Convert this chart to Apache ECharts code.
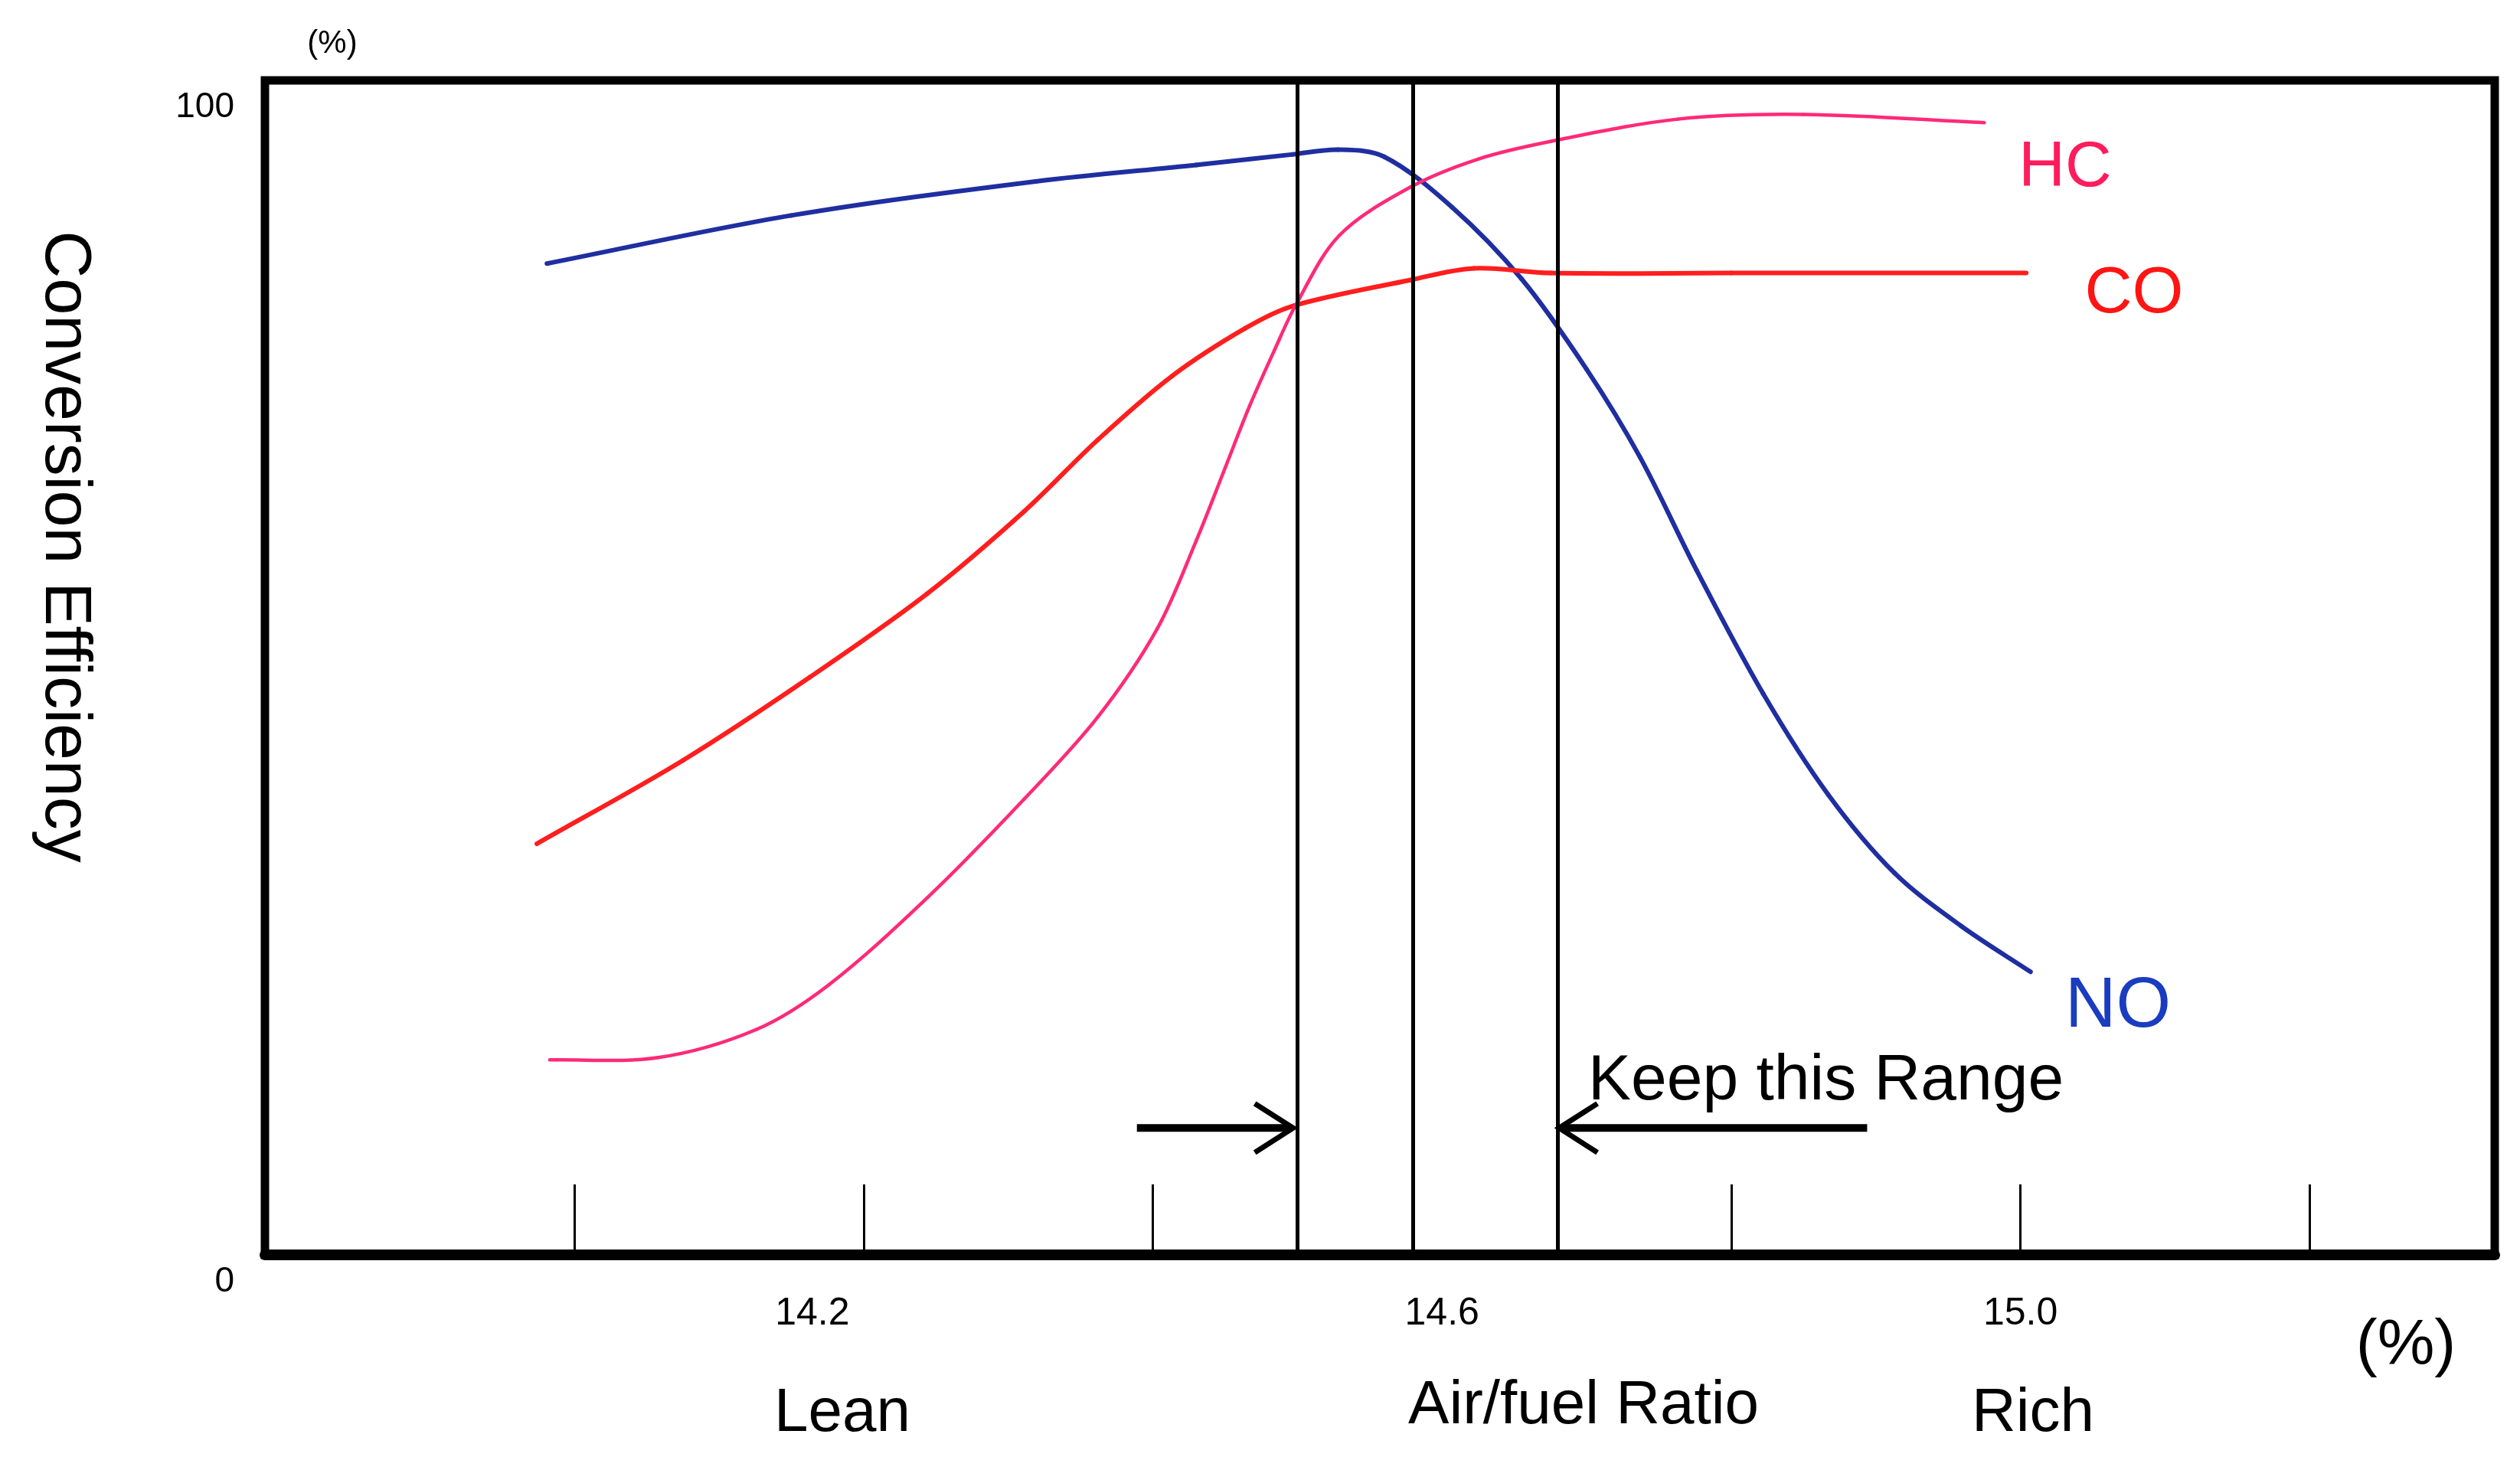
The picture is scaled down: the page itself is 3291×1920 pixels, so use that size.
<!DOCTYPE html>
<html>
<head>
<meta charset="utf-8">
<script src="https://cdn.jsdelivr.net/npm/echarts@6/dist/echarts.min.js"></script>
<style>
html,body{margin:0;padding:0;background:#fff;}
#chart{width:3291px;height:1920px;}
</style>
</head>
<body>
<div id="chart"></div>
<script>
// ---- data ----
const noX = [13.981, 14.150, 14.319, 14.430, 14.497, 14.528, 14.560, 14.607, 14.655, 14.700, 14.737, 14.776, 14.822, 14.867, 14.913, 14.959, 15.007];
const noY = [84.4, 88.5, 91.4, 92.8, 93.7, 94.1, 93.5, 89.2, 83.1, 75.4, 67.9, 58.3, 47.8, 39.2, 32.5, 28.0, 24.1];

const coX = [13.974, 14.075, 14.163, 14.244, 14.311, 14.362, 14.413, 14.464, 14.497, 14.578, 14.622, 14.675, 14.800, 15.004];
const coY = [35.0, 42.1, 49.2, 56.3, 63.3, 69.4, 74.8, 78.9, 80.8, 83.0, 84.0, 83.6, 83.6, 83.6];

const hcX = [13.983, 14.058, 14.126, 14.176, 14.244, 14.311, 14.362, 14.403, 14.430, 14.450, 14.467, 14.484, 14.499, 14.529, 14.578, 14.625, 14.675, 14.763, 14.850, 14.975];
const hcY = [16.6, 16.8, 19.2, 23.0, 30.4, 38.8, 45.8, 53.3, 60.8, 67.0, 72.3, 77.0, 80.9, 86.8, 90.9, 93.3, 94.8, 96.7, 97.1, 96.4];

const rangeLines = [14.497, 14.578, 14.675];
const tickValues = [14.0, 14.2, 14.4, 14.8, 15.0, 15.2];
const tickLabels = [14.2, 14.6, 15.0];
const yTicks = [0, 100];
const arrowFrom = [14.389, 14.894];
const arrowTo = [14.497, 14.681];
const arrowY = 10.8;

const xMin = 13.786, xMax = 15.328;

const FONT = 'Liberation Sans, Arial, sans-serif';
const zip = (xs, ys) => xs.map((x, i) => [x, ys[i]]);

const chart = echarts.init(document.getElementById('chart'));

function txt(text, x, y, size, color, opts) {
  opts = opts || {};
  return {
    type: 'text', x: x, y: y, rotation: opts.rotation || 0,
    style: {
      text: text, fontSize: size, fontFamily: FONT, fill: color,
      align: opts.align || 'center', textAlign: opts.align || 'center',
      verticalAlign: 'middle', textVerticalAlign: 'middle'
    }
  };
}

// smooth curve (chord-length Catmull-Rom) drawn through the axis scales
function curveSeries(name, xs, ys, color, width) {
  const n = xs.length;
  return {
    name: name, type: 'custom', z: 3, data: zip(xs, ys), encode: { x: 0, y: 1 },
    renderItem: function (params, api) {
      const i = params.dataIndex;
      if (i >= n - 1) return { type: 'group', children: [] };
      const P = k => api.coord([xs[k], ys[k]]);
      const dist = (a, b) => Math.hypot(b[0] - a[0], b[1] - a[1]);
      const tan = k => {
        if (k === 0) { const a = P(0), b = P(1), d = dist(a, b); return [(b[0] - a[0]) / d, (b[1] - a[1]) / d]; }
        if (k === n - 1) { const a = P(n - 2), b = P(n - 1), d = dist(a, b); return [(b[0] - a[0]) / d, (b[1] - a[1]) / d]; }
        const a = P(k - 1), p = P(k), b = P(k + 1);
        const s = dist(a, p) + dist(p, b);
        return [(b[0] - a[0]) / s, (b[1] - a[1]) / s];
      };
      const p0 = P(i), p1 = P(i + 1), d = dist(p0, p1) / 3;
      const t0 = tan(i), t1 = tan(i + 1);
      return {
        type: 'bezierCurve',
        shape: {
          x1: p0[0], y1: p0[1], x2: p1[0], y2: p1[1],
          cpx1: p0[0] + t0[0] * d, cpy1: p0[1] + t0[1] * d,
          cpx2: p1[0] - t1[0] * d, cpy2: p1[1] - t1[1] * d
        },
        style: { stroke: color, lineWidth: width, fill: null, lineCap: 'round' }
      };
    }
  };
}

const option = {
  backgroundColor: '#fff',
  animation: false,
  grid: {
    left: 346, right: 33, top: 105, bottom: 281,
    show: true, borderColor: '#000', borderWidth: 11, backgroundColor: 'transparent'
  },
  xAxis: {
    type: 'value', min: xMin, max: xMax,
    axisLine: { show: true, onZero: false, lineStyle: { color: '#000', width: 14 } },
    axisTick: { show: true, inside: true, length: 92, customValues: tickValues, lineStyle: { color: '#000', width: 3 } },
    axisLabel: {
      show: true, customValues: tickLabels, margin: 52,
      fontSize: 50, fontFamily: FONT, color: '#000',
      formatter: function (v) {
        const s = Number(v).toFixed(1);
        return Math.abs(v - 14.2) < 1e-6 ? '{l|' + s + '}' : s;
      },
      rich: { l: { fontSize: 50, fontFamily: FONT, color: '#000', padding: [0, 134, 0, 0] } }
    },
    splitLine: { show: false }
  },
  yAxis: {
    type: 'value', min: 0, max: 100, interval: 100,
    axisLine: { show: false }, axisTick: { show: false }, splitLine: { show: false },
    axisLabel: {
      show: true, customValues: yTicks, margin: 40, fontSize: 46, fontFamily: FONT, color: '#000',
      verticalAlign: 'top', padding: [12, 0, 0, 0]
    }
  },
  series: [
    curveSeries('NO', noX, noY, '#1f2ea0', 6),
    curveSeries('CO', coX, coY, '#ff1e1e', 6),
    curveSeries('HC', hcX, hcY, '#ff2a78', 4.5),
    {
      name: 'range', type: 'line', data: [], showSymbol: false,
      markLine: {
        silent: true, symbol: ['none', 'none'], label: { show: false },
        lineStyle: { color: '#000', width: 5, type: 'solid' },
        data: rangeLines.map(v => ({ xAxis: v }))
      }, z: 4
    },
    {
      name: 'arrows', type: 'custom', z: 5,
      data: arrowFrom.map((f, i) => [f, arrowTo[i], arrowY]),
      renderItem: function (params, api) {
        const p0 = api.coord([api.value(0), api.value(2)]);
        const p1 = api.coord([api.value(1), api.value(2)]);
        const dir = p1[0] > p0[0] ? 1 : -1;
        return {
          type: 'group',
          children: [
            { type: 'line', shape: { x1: p0[0], y1: p0[1], x2: p1[0] - dir * 4, y2: p1[1] },
              style: { stroke: '#000', lineWidth: 10 } },
            { type: 'polyline', shape: { points: [[p1[0] - dir * 50, p1[1] - 32], [p1[0], p1[1]], [p1[0] - dir * 50, p1[1] + 32]] },
              style: { stroke: '#000', lineWidth: 7, fill: null } }
          ]
        };
      }
    }
  ],
  graphic: [
    txt('(%)', 434, 57, 42, '#000'),
    txt('Conversion Efficiency', 84, 714, 86, '#000', { rotation: -Math.PI / 2 }),
    txt('HC', 2697, 220, 84, '#ff1c5c'),
    txt('CO', 2787, 384, 86, '#ff1414'),
    txt('NO', 2766, 1316, 92, '#1a3cc0'),
    txt('Keep this Range', 2074, 1413, 84, '#000', { align: 'left' }),
    txt('(%)', 3142, 1759, 84, '#000'),
    txt('Lean', 1100, 1847, 80, '#000'),
    txt('Air/fuel Ratio', 2068, 1837, 80, '#000'),
    txt('Rich', 2655, 1847, 80, '#000')
  ]
};
chart.setOption(option);
</script>
</body>
</html>
